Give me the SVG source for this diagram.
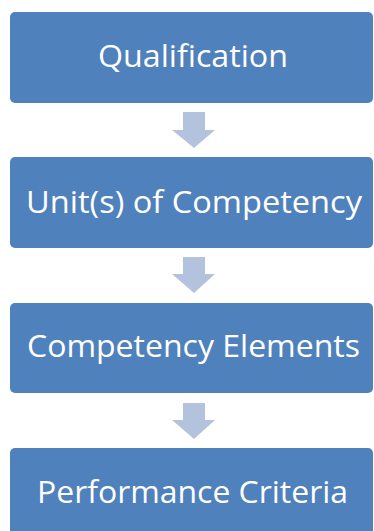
<svg xmlns="http://www.w3.org/2000/svg" width="374" height="531" viewBox="0 0 374 531">
<style>
.box{fill:#4F81BD}
.arr{fill:#B3C3DE}
.lbl{fill:#FFFFFF;font-family:"Open Sans","Noto Sans",sans-serif;font-size:31px;text-anchor:middle}
</style>
<rect width="374" height="531" fill="#FFFFFF"/>
<g id="connectors">
<path class="arr" d="M183,112 H205 V130 H215 L194,148 L172,130 H183 Z"/>
<path class="arr" d="M183,257 H205 V274 H215 L194,293 L172,274 H183 Z"/>
<path class="arr" d="M183,403 H205 V420 H215 L194,439 L172,420 H183 Z"/>
</g>
<g id="qualification">
<rect class="box" x="10" y="12" width="363" height="91" rx="5"/>
<text class="lbl" x="193" y="67" textLength="190" lengthAdjust="spacingAndGlyphs">Qualification</text>
</g>
<g id="units">
<rect class="box" x="10" y="157" width="363" height="91" rx="5"/>
<text class="lbl" x="194" y="213" textLength="336" lengthAdjust="spacingAndGlyphs">Unit(s) of Competency</text>
</g>
<g id="elements">
<rect class="box" x="10" y="303" width="363" height="90" rx="5"/>
<text class="lbl" x="193.5" y="357" textLength="333" lengthAdjust="spacingAndGlyphs">Competency Elements</text>
</g>
<g id="criteria">
<rect class="box" x="10" y="448" width="363" height="95" rx="5"/>
<text class="lbl" x="192.5" y="503" textLength="311" lengthAdjust="spacingAndGlyphs">Performance Criteria</text>
</g>
</svg>
